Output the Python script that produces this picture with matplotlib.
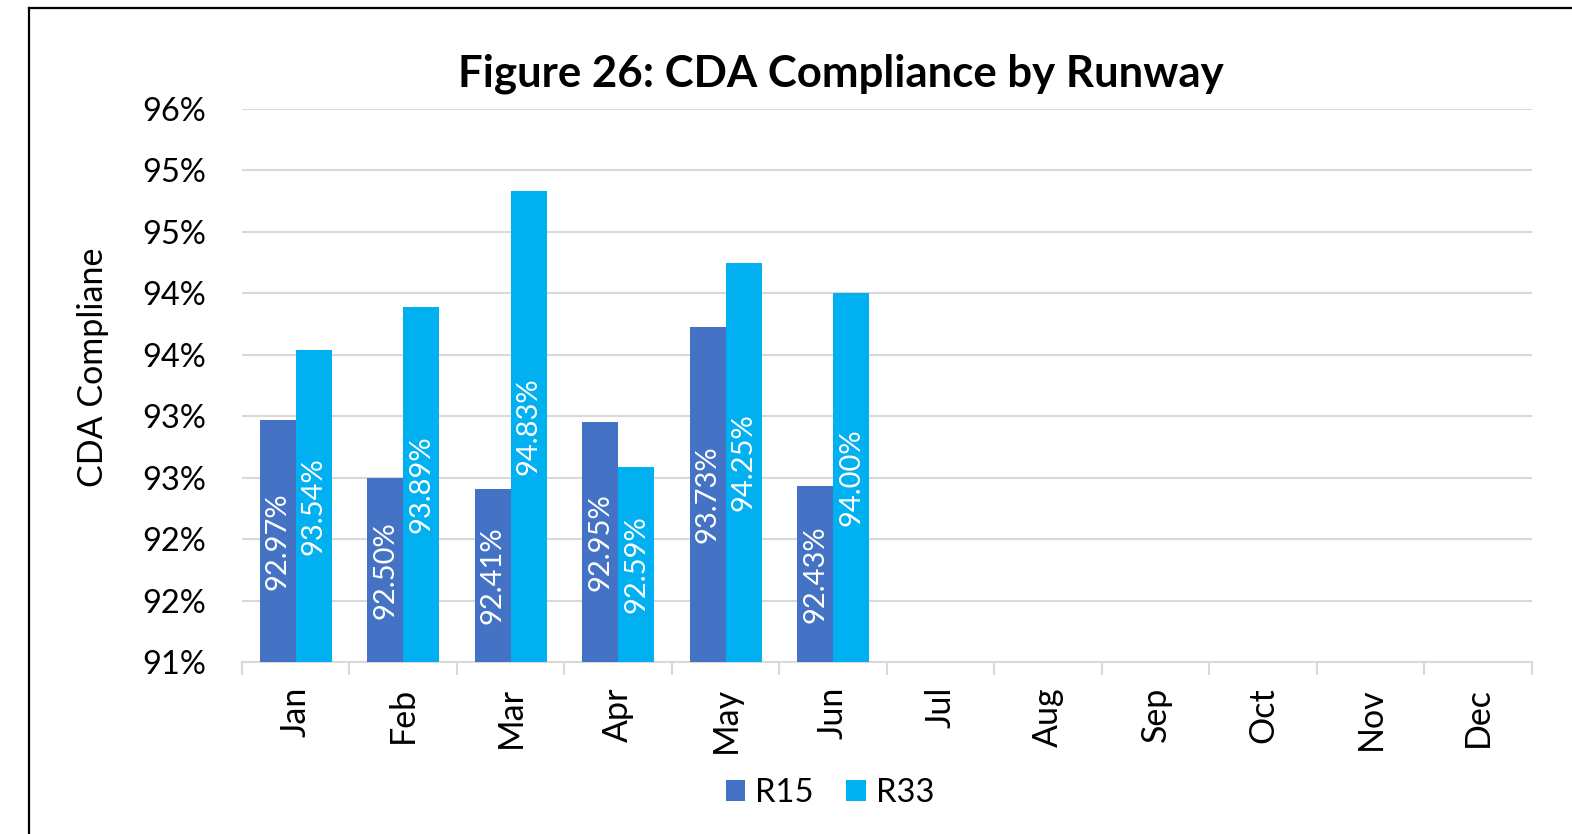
import matplotlib.pyplot as plt
import numpy as np
from matplotlib.lines import Line2D

plt.rcParams['font.family'] = ['Lato', 'DejaVu Sans']

# Data
months = ['Jan', 'Feb', 'Mar', 'Apr', 'May', 'Jun',
          'Jul', 'Aug', 'Sep', 'Oct', 'Nov', 'Dec']
r15 = [92.97, 92.50, 92.41, 92.95, 93.73, 92.43]
r33 = [93.54, 93.89, 94.83, 92.59, 94.25, 94.00]
yticks = [91.0, 91.5, 92.0, 92.5, 93.0, 93.5, 94.0, 94.5, 95.0, 95.5]
ytick_labels = ['91%', '92%', '92%', '93%', '93%', '94%', '94%', '95%', '95%', '96%']

c15 = '#4472C4'
c33 = '#00B0F0'
grid_c = '#D9D9D9'

fig = plt.figure(figsize=(15.72, 8.34), dpi=100)
ax = fig.add_axes([0.1538, 0.2062, 0.8206, 0.6631])

w = 0.335
x = np.arange(len(r15))
b1 = ax.bar(x - w / 2, np.array(r15) - 91, w, bottom=91, color=c15, zorder=3, label='R15')
b2 = ax.bar(x + w / 2, np.array(r33) - 91, w, bottom=91, color=c33, zorder=3, label='R33')

# value labels, centred in the bars
for bars, vals in [(b1, r15), (b2, r33)]:
    for rect, v in zip(bars, vals):
        ax.text(rect.get_x() + rect.get_width() / 2, (91 + v) / 2, f'{v:.2f}%',
                rotation=90, ha='center', va='center', color='white', fontsize=21, zorder=4)

ax.set_xlim(-0.5, len(months) - 0.5)
ax.set_ylim(91, 95.5)
ax.set_yticks(yticks)
ax.set_yticklabels(ytick_labels, fontsize=23.5)
ax.tick_params(axis='y', length=0, pad=26)

ax.set_xticks(np.arange(len(months)))
ax.set_xticklabels(months, rotation=90, fontsize=24.5, va='top')
ax.tick_params(axis='x', which='major', length=0, pad=18)
ax.set_xticks(np.arange(len(months) + 1) - 0.5, minor=True)
ax.tick_params(axis='x', which='minor', length=9, width=1.5, color=grid_c)

ax.grid(axis='y', color=grid_c, linewidth=1.5, zorder=0)
for s in ['top', 'right', 'left']:
    ax.spines[s].set_visible(False)
ax.spines['bottom'].set_color(grid_c)
ax.spines['bottom'].set_linewidth(1.5)

# y label sits a bit above the axes centre in the original
fig.text(0.059, 0.56, 'CDA Compliane', rotation=90, ha='center', va='center', fontsize=24.5)
fig.text(0.535, 0.911, 'Figure 26: CDA Compliance by Runway', ha='center', va='center',
         fontsize=31.5, fontweight='bold')

fig.legend(handles=[b1, b2], loc='center', bbox_to_anchor=(0.528, 0.049), ncol=2,
           frameon=False, fontsize=23.5, handlelength=0.6, handleheight=0.6,
           handletextpad=0.3, columnspacing=1.0)

# outer chart border (only top and left edges are visible in the crop)
fig.add_artist(Line2D([0.0187, 0.0187], [0, 0.991], transform=fig.transFigure, color='black', lw=1.6))
fig.add_artist(Line2D([0.0187, 1], [0.991, 0.991], transform=fig.transFigure, color='black', lw=1.6))

fig.savefig('out.png', dpi=100)
